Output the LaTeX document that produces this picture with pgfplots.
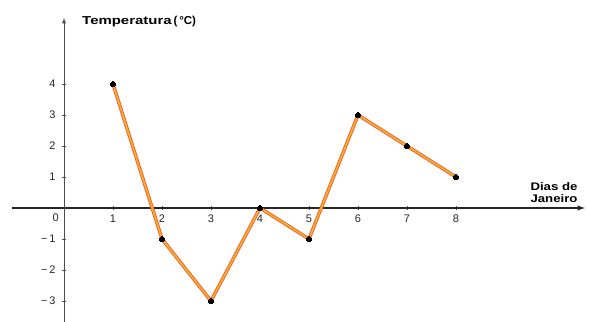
\documentclass[border=0pt]{standalone}
\usepackage{fontspec}
\setmainfont{Liberation Sans}
\usepackage{pgfplots}
\pgfplotsset{compat=1.18}
\definecolor{lineedge}{RGB}{232,92,40}
\definecolor{linecore}{RGB}{248,170,50}
\begin{document}
\begin{tikzpicture}
\begin{axis}[
  x=49pt, y=31pt,
  axis lines=middle,
  xmin=-1.06, xmax=10.63, ymin=-3.7, ymax=6.13,
  xtick={1,...,8}, ytick={-3,...,4},
  yticklabels={−\,3,−\,2,−\,1,0,1,2,3,4},
  /pgf/number format/assume math mode=true,
  tick label style={font=\fontsize{11}{12}\selectfont, text=black!85},
  xticklabel style={yshift=-1pt},
  yticklabel style={xshift=-3pt},
  major tick length=4pt,
  tick style={black!70, line width=0.8pt},
  x axis line style={black!85, line width=1.5pt, -latex},
  y axis line style={black!70, line width=0.9pt, -latex},
  clip=false,
]
\coordinate (O) at (axis cs:0,0);
\addplot[lineedge, line width=3.4pt] coordinates {
 (1,4) (2,-1) (3,-3) (4,0) (5,-1) (6,3) (7,2) (8,1)};
\addplot[linecore, line width=1.8pt, mark=*, mark size=2.6pt,
  mark options={black, fill=black, line width=0pt}] coordinates {
 (1,4) (2,-1) (3,-3) (4,0) (5,-1) (6,3) (7,2) (8,1)};
\node[font=\fontsize{11}{12}\selectfont, text=black!85] at (axis cs:-0.17,-0.3) {0};
\node[anchor=west, font=\bfseries\fontsize{11.5}{12}\selectfont] at (axis cs:0.3,6.0)
  {\scalebox{1.3}[1]{Temperatura}\,(\,°C)};
\node[anchor=south, align=center, font=\bfseries\fontsize{11}{12}\selectfont]
  at (axis cs:10.0,0.05) {\scalebox{1.2}[1]{Dias de}\\\scalebox{1.2}[1]{Janeiro}};
\end{axis}
\pgfresetboundingbox
\path ([shift={(-64pt,-113pt)}]O) rectangle ([shift={(527pt,208pt)}]O);
\end{tikzpicture}
\end{document}
